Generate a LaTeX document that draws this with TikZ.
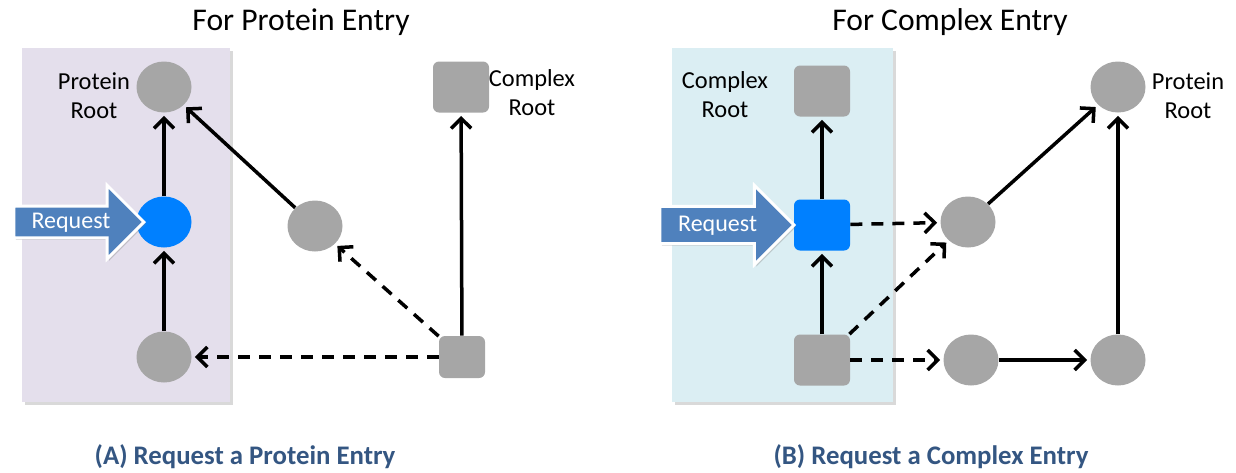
\documentclass[tikz,border=0pt]{standalone}
\usepackage{fontspec}
\setmainfont{Carlito}
\usetikzlibrary{arrows.meta,shapes.geometric,shapes.arrows,shadows}

\definecolor{nodegray}{RGB}{166,166,166}
\definecolor{hitblue}{RGB}{0,128,255}
\definecolor{reqblue}{RGB}{79,129,189}
\definecolor{boxlilac}{RGB}{228,223,236}
\definecolor{boxcyan}{RGB}{219,238,243}
\definecolor{capblue}{RGB}{52,86,130}

\tikzset{
	prot/.style={ellipse, fill=nodegray, minimum width=27.5pt, minimum height=25.5pt, inner sep=0pt},
	cplx/.style={rectangle, rounded corners=3pt, fill=nodegray, minimum width=28pt, minimum height=25.5pt, inner sep=0pt},
	link/.style={line width=1.75pt, shorten >=1.5pt, -{Straight Barb[length=5pt,width=10pt,line width=1.75pt]}},
	weak/.style={link, dash pattern=on 6pt off 4.5pt},
	request/.style={single arrow, fill=reqblue, draw=white, line width=1.5pt, text=white,
		single arrow head extend=10.5pt, font=\fontsize{12}{14}\selectfont,
		text height=7.7pt, text depth=1.4pt, inner ysep=2.6pt, inner xsep=4pt,
		drop shadow={shadow xshift=1pt, shadow yshift=-1pt, opacity=0.35}},
	lbl/.style={align=center, font=\fontsize{12.2}{14.5}\selectfont},
	heading/.style={font=\fontsize{15.8}{18}\selectfont},
	caption/.style={font=\fontsize{13.4}{15}\selectfont\bfseries, text=capblue},
	panel/.style={drop shadow={shadow xshift=1.5pt, shadow yshift=-1.5pt, opacity=0.3}}
}

\begin{document}
\begin{tikzpicture}[x=0.5pt, y=-0.5pt]
	\useasboundingbox (0,0) rectangle (1236,472);

	% panel backgrounds
	\fill[boxlilac, panel] (22,48) rectangle (230,402);
	\fill[boxcyan, panel] (672,48) rectangle (893,402);

	\node[heading] (headA) at (301,22) {For Protein Entry};
	\node[heading] (headB) at (950,22) {For Complex Entry};
	\node[caption] (capA) at (245,457) {(A) Request a Protein Entry};
	\node[caption] (capB) at (931,457) {(B) Request a Complex Entry};

	% (A) protein entry
	\node[prot] (protrootA) at (164,87) {};
	\node[prot, fill=hitblue] (protreqA) at (164,222) {};
	\node[prot] (protlowA) at (164,357) {};
	\node[prot] (protmidA) at (315,226) {};
	\node[cplx] (cplxrootA) at (461,87) {};
	\node[cplx, minimum width=23pt, minimum height=21pt] (cplxlowA) at (462,357) {};

	\node[lbl] (protlblA) at (94,96) {Protein\\Root};
	\node[lbl] (cplxlblA) at (532,93) {Complex\\Root};

	\draw[link] (protlowA) -- (protreqA);
	\draw[link] (protreqA) -- (protrootA);
	\draw[link] (protmidA) -- (protrootA);
	\draw[link] (cplxlowA) -- (cplxrootA);
	\draw[weak] (cplxlowA) -- (protmidA);
	\draw[weak] (cplxlowA) -- (protlowA);

	\node[request, minimum height=65pt, anchor=tip] (reqA) at (146,222) {Request};

	% (B) complex entry
	\node[cplx] (cplxrootB) at (822,91) {};
	\node[cplx, fill=hitblue] (cplxreqB) at (822,225) {};
	\node[cplx] (cplxlowB) at (822,360) {};
	\node[prot] (protmidB) at (968,222) {};
	\node[prot] (protrootB) at (1118,87) {};
	\node[prot] (protlowB) at (971,360) {};
	\node[prot] (protendB) at (1118,360) {};

	\node[lbl] (cplxlblB) at (725,95) {Complex\\Root};
	\node[lbl] (protlblB) at (1188,96) {Protein\\Root};

	\draw[link] (cplxlowB) -- (cplxreqB);
	\draw[link] (cplxreqB) -- (cplxrootB);
	\draw[weak] (cplxreqB) -- (protmidB);
	\draw[weak] (cplxlowB) -- (protmidB);
	\draw[weak] (cplxlowB) -- (protlowB);
	\draw[link] (protlowB) -- (protendB);
	\draw[link] (protendB) -- (protrootB);
	\draw[link] (protmidB) -- (protrootB);

	\node[request, minimum height=67pt, inner ysep=4pt, anchor=tip] (reqB) at (796,225) {Request};
\end{tikzpicture}
\end{document}
